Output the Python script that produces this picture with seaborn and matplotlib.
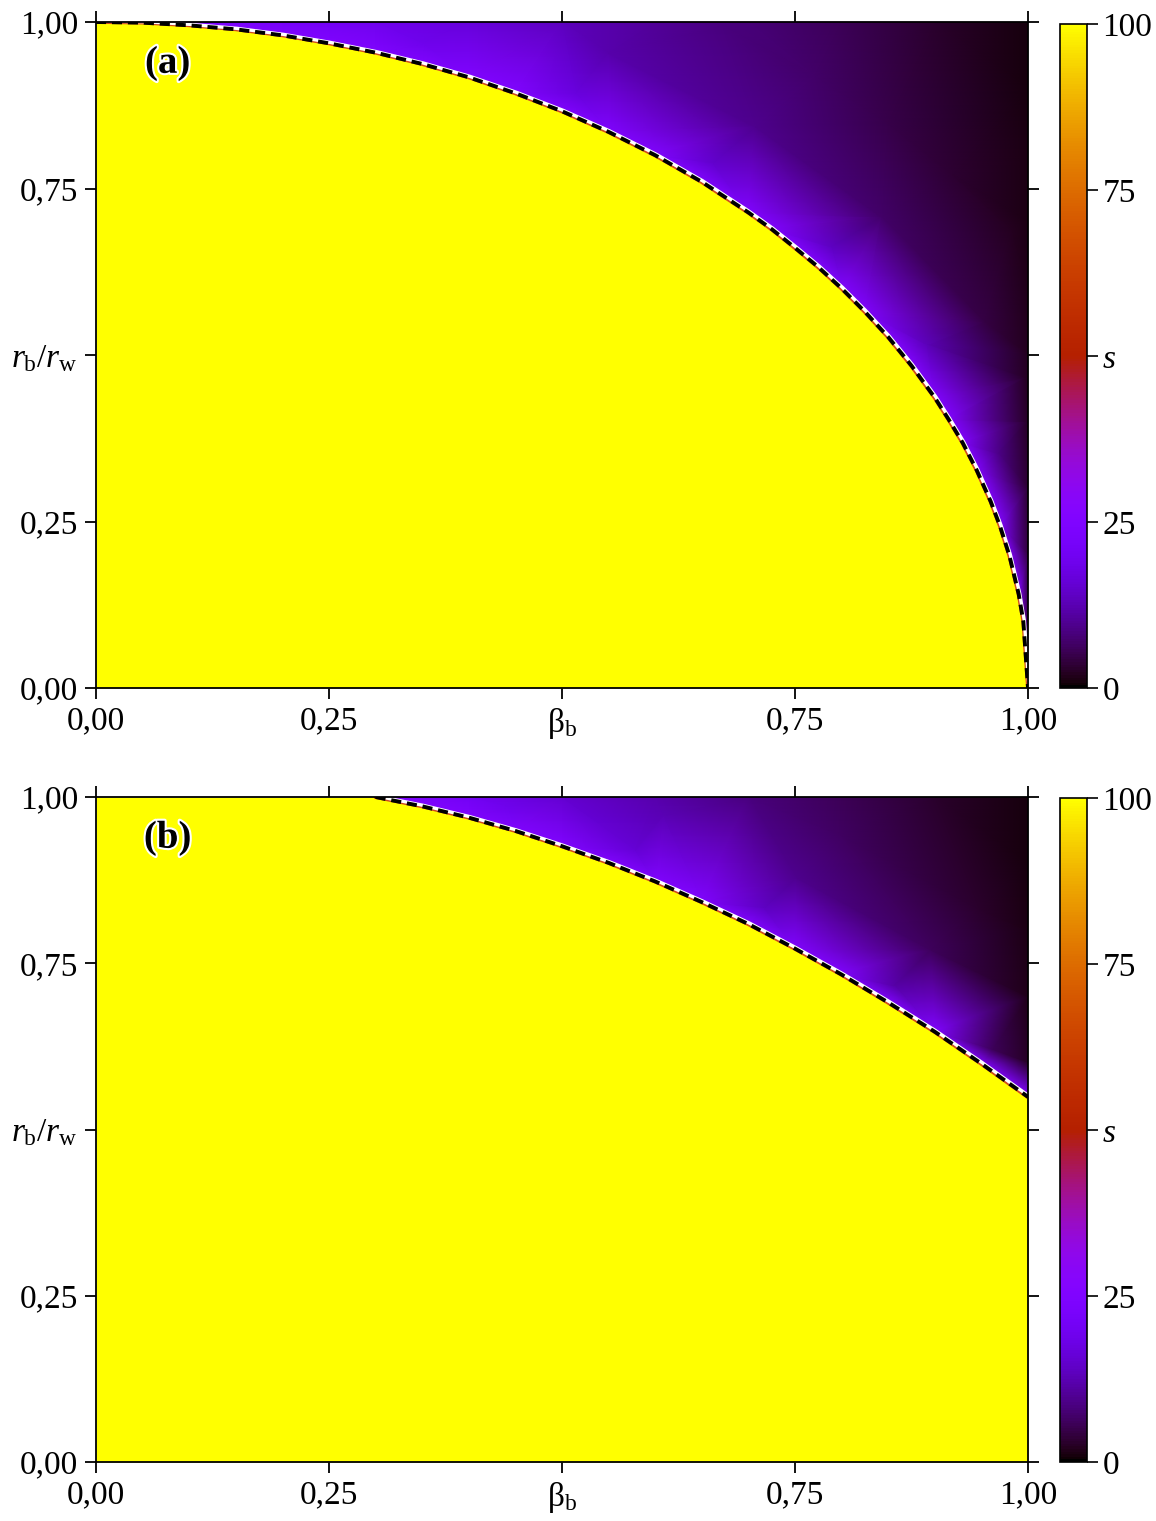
import matplotlib
matplotlib.use("Agg")
import matplotlib.pyplot as plt
import matplotlib.tri as mtri
import matplotlib.patheffects as pe
import seaborn as sns

# axis ticks (0.5 carries the axis name instead of a number)
ticks = [0.0, 0.25, 0.5, 0.75, 1.0]
x_labels = ["0,00", "0,25", r"$\mathrm{\beta}_\mathrm{b}$", "0,75", "1,00"]
y_labels = ["0,00", "0,25", r"$r_\mathrm{b}/r_\mathrm{w}$", "0,75", "1,00"]
s_ticks = [0, 25, 50, 75, 100]
s_labels = ["0", "25", "s", "75", "100"]

s_inside = 100   # value below the dashed boundary
s_rim = 25       # value right at the boundary (upper side)

# panel (a): boundary
curve_a_beta = [0.0, 0.05, 0.1, 0.15, 0.2, 0.25, 0.3, 0.35, 0.4, 0.45, 0.5,
                0.55, 0.6, 0.65, 0.7, 0.725, 0.75, 0.775, 0.8, 0.825, 0.85,
                0.875, 0.9, 0.915, 0.93, 0.945, 0.96, 0.97, 0.98, 0.99,
                0.995, 1.0]
curve_a_r = [1.0, 0.999, 0.995, 0.989, 0.98, 0.968, 0.954, 0.937, 0.917,
             0.893, 0.866, 0.835, 0.80, 0.76, 0.714, 0.689, 0.661, 0.632,
             0.60, 0.565, 0.527, 0.484, 0.436, 0.403, 0.368, 0.327, 0.28,
             0.243, 0.199, 0.141, 0.10, 0.0]

# panel (a): s sampled above the boundary (top edge, right edge, inner bands)
field_a_beta = [0.1, 0.2, 0.3, 0.4, 0.5, 0.6, 0.7, 0.8, 0.9, 1.0,
                1.0, 1.0, 1.0, 1.0, 1.0, 1.0, 1.0, 1.0, 1.0,
                0.968, 0.892, 0.789, 0.662, 0.515, 0.352, 0.249,
                0.997, 0.953, 0.843, 0.707, 0.55,
                0.983, 0.919, 0.849, 0.771, 0.671]
field_a_r = [1.0, 1.0, 1.0, 1.0, 1.0, 1.0, 1.0, 1.0, 1.0, 1.0,
             0.9, 0.8, 0.7, 0.6, 0.5, 0.4, 0.3, 0.2, 0.1,
             0.352, 0.515, 0.662, 0.789, 0.892, 0.968, 0.999,
             0.465, 0.55, 0.707, 0.843, 0.953,
             0.688, 0.771, 0.849, 0.919, 0.995]
field_a_s = [24, 22, 19.5, 16.5, 13.5, 10.5, 8, 5.5, 3, 0.8,
             1.0, 1.2, 1.5, 1.8, 2.1, 2.5, 3.2, 4, 5,
             9, 13, 14, 15, 17, 19, 21,
             2.5, 4.5, 7, 9.5, 12,
             2, 3.5, 5, 7, 8.5]

# panel (b): boundary
curve_b_beta = [0.30, 0.35, 0.40, 0.45, 0.50, 0.55, 0.60, 0.65, 0.70, 0.75,
                0.80, 0.85, 0.90, 0.95, 1.0]
curve_b_r = [1.0, 0.986, 0.969, 0.949, 0.926, 0.901, 0.873, 0.842, 0.809,
             0.772, 0.733, 0.691, 0.647, 0.599, 0.549]

# panel (b): s sampled above the boundary
field_b_beta = [0.35, 0.4, 0.5, 0.6, 0.7, 0.8, 0.9, 1.0,
                1.0, 1.0, 1.0, 1.0,
                0.441, 0.579, 0.717, 0.857, 0.961,
                0.608, 0.751, 0.896,
                0.797, 0.948]
field_b_r = [1.0, 1.0, 1.0, 1.0, 1.0, 1.0, 1.0, 1.0,
             0.9, 0.8, 0.7, 0.6,
             0.985, 0.921, 0.834, 0.716, 0.620,
             0.972, 0.879, 0.770,
             0.944, 0.831]
field_b_s = [23, 20.5, 15.5, 12, 8.5, 5.5, 3, 0.8,
             1.0, 1.2, 1.6, 2.4,
             19, 16, 14, 11.5, 6,
             12.5, 9.5, 6,
             6.5, 3]

sns.set_theme(style="ticks")
plt.rcParams["font.family"] = ["Liberation Serif", "DejaVu Serif"]
plt.rcParams["mathtext.fontset"] = "custom"
plt.rcParams["mathtext.rm"] = "Liberation Serif"
plt.rcParams["mathtext.it"] = "Liberation Serif:italic"
plt.rcParams["mathtext.bf"] = "Liberation Serif:bold"
plt.rcParams["axes.edgecolor"] = "black"
plt.rcParams["text.color"] = "black"

cmap = plt.get_cmap("gnuplot")
FS = 24


def draw_panel(ax, cax, curve_beta, curve_r, f_beta, f_r, f_s, tag):
    # colour field above the boundary
    pts_beta = list(curve_beta) + list(f_beta)
    pts_r = list(curve_r) + list(f_r)
    vals = [s_rim] * len(curve_beta) + list(f_s)
    tri = mtri.Triangulation(pts_beta, pts_r)
    mesh = ax.tripcolor(tri, vals, shading="gouraud", cmap=cmap,
                        vmin=0, vmax=100, zorder=1)

    # s = 100 region under the boundary
    fill_beta = list(curve_beta)
    fill_r = list(curve_r)
    if fill_beta[0] > 0:
        fill_beta = [0.0] + fill_beta
        fill_r = [1.0] + fill_r
    ax.fill_between(fill_beta, 0, fill_r, color=cmap(s_inside / 100),
                    lw=0, zorder=2)

    # boundary line: faint red seam, white line shifted up, black dashes
    sns.lineplot(x=curve_beta, y=curve_r, ax=ax, sort=False, estimator=None,
                 color="#d04a20", lw=1.4, zorder=3, legend=False,
                 path_effects=[pe.Stroke(offset=(-0.6, -0.6))])
    sns.lineplot(x=curve_beta, y=curve_r, ax=ax, sort=False, estimator=None,
                 color="white", lw=2.4, zorder=4, legend=False,
                 path_effects=[pe.Stroke(offset=(0.7, 0.7))])
    ax.plot(curve_beta, curve_r, color="black", lw=2.8,
            dashes=(2.6, 1.5), zorder=5)

    ax.set_xlim(0, 1)
    ax.set_ylim(0, 1)
    ax.set_xticks(ticks)
    ax.set_yticks(ticks)
    ax.set_xticklabels(x_labels)
    ax.set_yticklabels(y_labels)
    ax.set_xlabel("")
    ax.set_ylabel("")
    ax.tick_params(direction="out", length=8, width=1.3, labelsize=FS,
                   top=True, right=True, pad=5, colors="black")
    for sp in ax.spines.values():
        sp.set_visible(True)
        sp.set_linewidth(1.3)
        sp.set_color("black")
        sp.set_zorder(6)

    ax.text(0.077, 0.938, tag, transform=ax.transAxes, fontsize=28,
            fontweight="bold", ha="center", va="center", zorder=7,
            color="black",
            path_effects=[pe.withStroke(linewidth=3, foreground="white")])

    cb = plt.colorbar(mesh, cax=cax, ticks=s_ticks)
    cb.ax.set_yticklabels(s_labels)
    cb.ax.get_yticklabels()[2].set_fontstyle("italic")
    cb.outline.set_linewidth(1.2)
    cb.outline.set_edgecolor("black")
    cax.tick_params(direction="out", length=8, width=1.2, labelsize=FS,
                    right=True, left=False, pad=3, colors="black")


fig = plt.figure(figsize=(11.56, 15.21), dpi=100)
W, H = 1156, 1521
ax_a = fig.add_axes([96 / W, 1 - 688 / H, 932 / W, 666 / H])
ax_b = fig.add_axes([96 / W, 1 - 1462 / H, 932 / W, 665 / H])
cax_a = fig.add_axes([1060 / W, 1 - 688 / H, 27 / W, 664 / H])
cax_b = fig.add_axes([1060 / W, 1 - 1462 / H, 27 / W, 664 / H])

draw_panel(ax_a, cax_a, curve_a_beta, curve_a_r,
           field_a_beta, field_a_r, field_a_s, "(a)")
draw_panel(ax_b, cax_b, curve_b_beta, curve_b_r,
           field_b_beta, field_b_r, field_b_s, "(b)")

fig.savefig("out.png", dpi=100)
